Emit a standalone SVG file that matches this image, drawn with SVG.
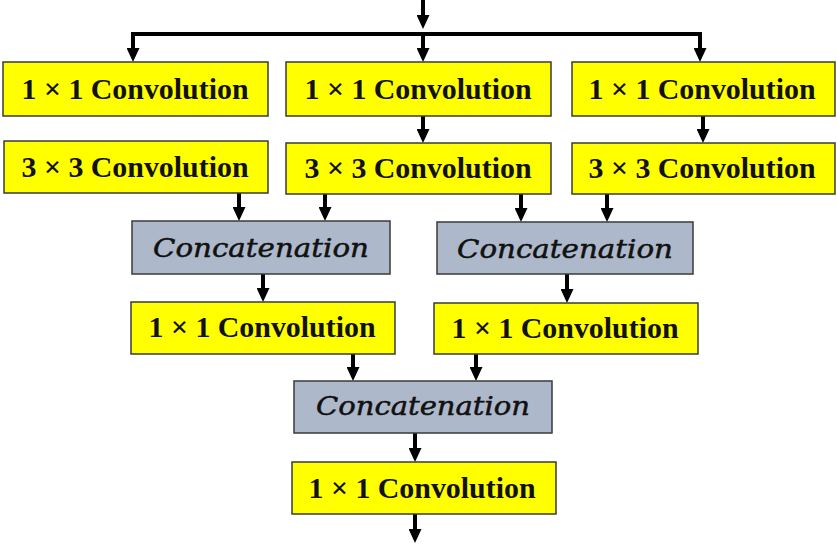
<svg xmlns="http://www.w3.org/2000/svg" width="837" height="546" viewBox="0 0 837 546">
<style>
.conv rect{fill:#ffff00;stroke:#3a3a3a;stroke-width:1.5}
.cat rect{fill:#adb9ca;stroke:#3a3a3a;stroke-width:1.5}
.conv text{font-family:"Liberation Serif",serif;font-weight:bold;font-size:29px;fill:#111;text-anchor:middle}
.cat text{font-family:"DejaVu Serif","Liberation Serif",serif;font-style:italic;font-size:26px;fill:#111;stroke:#111;stroke-width:0.5;text-anchor:middle}
#connectors path{stroke:#000;stroke-width:4;fill:none}
#connectors .a{marker-end:url(#ah)}
</style>
<defs>
<marker id="ah" markerUnits="userSpaceOnUse" markerWidth="14" markerHeight="13" viewBox="0 0 14 13" refX="6" refY="6.5" orient="auto">
<path d="M0,0 L14,6.5 L0,13 z" fill="#000"/>
</marker>
</defs>
<rect width="837" height="546" fill="#fff"/>
<g id="connectors">
<path class="a" d="M423,0 V21"/>
<path d="M133,34 H700" stroke-linecap="square"/>
<path class="a" d="M133,32 V54"/>
<path class="a" d="M423,32 V54"/>
<path class="a" d="M700,32 V54"/>
<path class="a" d="M423,116 V135"/>
<path class="a" d="M703,116 V135"/>
<path class="a" d="M239,193 V213"/>
<path class="a" d="M325,194 V213"/>
<path class="a" d="M521,194 V214"/>
<path class="a" d="M607,194 V214"/>
<path class="a" d="M263,274 V294"/>
<path class="a" d="M567,274 V295"/>
<path class="a" d="M353,354 V373"/>
<path class="a" d="M476,354 V373"/>
<path class="a" d="M415,433 V454"/>
<path class="a" d="M415,514 V535"/>
</g>
<g id="conv1a" class="conv"><rect x="3" y="62" width="265" height="54"/><text x="135" y="99" textLength="227" lengthAdjust="spacingAndGlyphs">1 × 1 Convolution</text></g>
<g id="conv1b" class="conv"><rect x="286" y="62" width="265" height="54"/><text x="418" y="99" textLength="227" lengthAdjust="spacingAndGlyphs">1 × 1 Convolution</text></g>
<g id="conv1c" class="conv"><rect x="572" y="62" width="263" height="54"/><text x="702" y="99" textLength="227" lengthAdjust="spacingAndGlyphs">1 × 1 Convolution</text></g>
<g id="conv3a" class="conv"><rect x="4" y="141" width="264" height="52"/><text x="135" y="177" textLength="227" lengthAdjust="spacingAndGlyphs">3 × 3 Convolution</text></g>
<g id="conv3b" class="conv"><rect x="286" y="143" width="265" height="51"/><text x="418" y="178" textLength="227" lengthAdjust="spacingAndGlyphs">3 × 3 Convolution</text></g>
<g id="conv3c" class="conv"><rect x="572" y="143" width="263" height="51"/><text x="702" y="178" textLength="227" lengthAdjust="spacingAndGlyphs">3 × 3 Convolution</text></g>
<g id="concat1" class="cat"><rect x="132" y="221" width="258" height="53"/><text x="261" y="257" textLength="216" lengthAdjust="spacingAndGlyphs">Concatenation</text></g>
<g id="concat2" class="cat"><rect x="437" y="222" width="256" height="52"/><text x="565" y="258" textLength="216" lengthAdjust="spacingAndGlyphs">Concatenation</text></g>
<g id="conv4a" class="conv"><rect x="131" y="302" width="264" height="52"/><text x="262" y="337" textLength="227" lengthAdjust="spacingAndGlyphs">1 × 1 Convolution</text></g>
<g id="conv4b" class="conv"><rect x="434" y="303" width="264" height="51"/><text x="565" y="338" textLength="227" lengthAdjust="spacingAndGlyphs">1 × 1 Convolution</text></g>
<g id="concat3" class="cat"><rect x="294" y="381" width="258" height="52"/><text x="423" y="415" textLength="214" lengthAdjust="spacingAndGlyphs">Concatenation</text></g>
<g id="conv5" class="conv"><rect x="292" y="462" width="264" height="52"/><text x="422" y="498" textLength="227" lengthAdjust="spacingAndGlyphs">1 × 1 Convolution</text></g>
</svg>
